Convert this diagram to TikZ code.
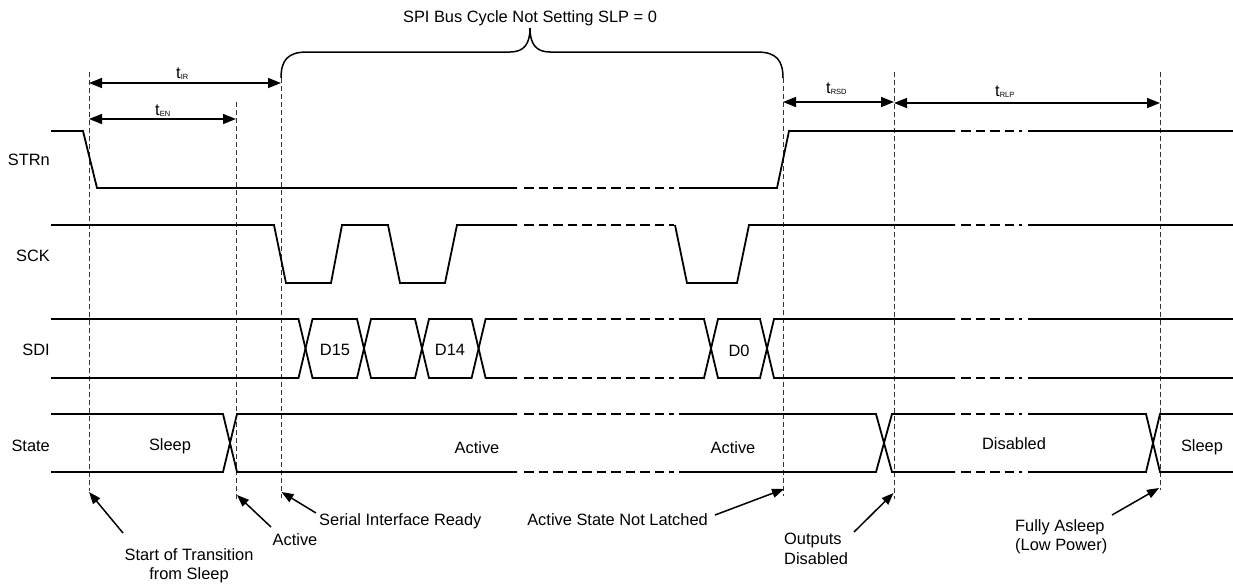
\documentclass[tikz,border=0pt]{standalone}
\usepackage{fontspec}
\setmainfont{Liberation Sans}
\usetikzlibrary{arrows.meta}
\newcommand\tsub[1]{\raisebox{-1.5pt}{\fontsize{7.5}{8}\selectfont #1}}
\begin{document}
\begin{tikzpicture}[x=1pt,y=-1pt,
  sig/.style={line width=1.8pt, line join=miter},
  sigdash/.style={line width=1.8pt, dash pattern=on 9.5pt off 5pt},
  guide/.style={line width=0.9pt, black!80, dash pattern=on 5pt off 3pt},
  dim/.style={line width=1.5pt, {Triangle[length=13pt,width=10pt]}-{Triangle[length=13pt,width=10pt]}},
  callout/.style={line width=1.5pt, -{Triangle[length=12pt,width=9pt]}},
  lbl/.style={font=\fontsize{16.4}{19.5}\selectfont, inner sep=0pt},
]
\useasboundingbox (0,0) rectangle (1233,584);

% guide lines
\coordinate (g1t) at (89,72);   \coordinate (g1b) at (89,491);
\coordinate (g2t) at (236,102); \coordinate (g2b) at (236,500);
\coordinate (g3t) at (281,78);  \coordinate (g3b) at (281,498);
\coordinate (g4t) at (783,78);  \coordinate (g4b) at (783,496);
\coordinate (g5t) at (894,72);  \coordinate (g5b) at (894,499);
\coordinate (g6t) at (1160,72); \coordinate (g6b) at (1160,490);
\foreach \i in {1,...,6}{\draw[guide] (g\i t) -- (g\i b);}

% brace
\node[lbl, anchor=base] (title) at (530,22) {SPI Bus Cycle Not Setting SLP = 0};
\draw[line width=1.5pt] (g3t) .. controls (281,60) and (288,52) .. (307,52) -- (510,52)
  .. controls (524,52) and (530,44) .. (530,28)
  .. controls (530,44) and (536,52) .. (550,52) -- (757,52)
  .. controls (776,52) and (783,60) .. (g4t);

% dimension arrows
\coordinate (irL) at (89,83);  \coordinate (irR) at (281,83);
\coordinate (enL) at (89,119); \coordinate (enR) at (236,119);
\coordinate (rsdL) at (783,102); \coordinate (rsdR) at (894,102);
\coordinate (rlpL) at (894,103); \coordinate (rlpR) at (1160,103);
\draw[dim] (irL) -- (irR);
\draw[dim] (enL) -- (enR);
\draw[dim] (rsdL) -- (rsdR);
\draw[dim] (rlpL) -- (rlpR);
\node[lbl, anchor=base west] (tIR) at (176,78) {t\tsub{IR}};
\node[lbl, anchor=base west] (tEN) at (155,115) {t\tsub{EN}};
\node[lbl, anchor=base west] (tRSD) at (826,93) {t\tsub{RSD}};
\node[lbl, anchor=base west] (tRLP) at (995,96) {t\tsub{RLP}};

% signal names
\node[lbl, anchor=base east] (nSTR) at (50,165) {STRn};
\node[lbl, anchor=base east] (nSCK) at (50,261) {SCK};
\node[lbl, anchor=base east] (nSDI) at (50,355) {SDI};
\node[lbl, anchor=base east] (nST) at (50,451) {State};

% dashed gaps of all signals
\foreach \yy in {188,225,319,378,414,472}{\draw[sigdash] (524,\yy) -- (674,\yy);}
\foreach \yy in {131,225,319,378,414,472}{\draw[sigdash] (961,\yy) -- (1022,\yy);}

% STRn
\draw[sig] (51,131) -- (83,131) -- (97,188) -- (517,188);
\draw[sig] (679,188) -- (777,188) -- (789,131) -- (955,131);
\draw[sig] (1028,131) -- (1233,131);

% SCK
\draw[sig] (51,225) -- (274,225) -- (286,283) -- (331,283) -- (342,225) -- (388,225)
  -- (400,283) -- (445,283) -- (457,225) -- (517,225);
\draw[sig] (675,225) -- (687,283) -- (737,283) -- (749,225) -- (955,225);
\draw[sig] (1028,225) -- (1233,225);

% SDI
\draw[sig] (51,319) -- (298.5,319) -- (312.5,378) -- (357,378) -- (371,319) -- (415,319)
  -- (429,378) -- (471.6,378) -- (485.6,319) -- (517,319);
\draw[sig] (51,378) -- (298.5,378) -- (312.5,319) -- (357,319) -- (371,378) -- (415,378)
  -- (429,319) -- (471.6,319) -- (485.6,378) -- (517,378);
\draw[sig] (679,319) -- (704,319) -- (718,378) -- (760,378) -- (774,319) -- (955,319);
\draw[sig] (679,378) -- (704,378) -- (718,319) -- (760,319) -- (774,378) -- (955,378);
\draw[sig] (1028,319) -- (1233,319);
\draw[sig] (1028,378) -- (1233,378);
\node[lbl, anchor=base] (d15) at (335,355) {D15};
\node[lbl, anchor=base] (d14) at (450,355) {D14};
\node[lbl, anchor=base] (d0) at (739,356) {D0};

% State
\draw[sig] (51,414) -- (223,414) -- (237,472) -- (517,472);
\draw[sig] (51,472) -- (223,472) -- (237,414) -- (517,414);
\draw[sig] (679,414) -- (876,414) -- (892,472) -- (955,472);
\draw[sig] (679,472) -- (876,472) -- (892,414) -- (955,414);
\draw[sig] (1028,414) -- (1146,414) -- (1160,472) -- (1233,472);
\draw[sig] (1028,472) -- (1146,472) -- (1160,414) -- (1233,414);
\node[lbl, anchor=base] (sSleep) at (170,450) {Sleep};
\node[lbl, anchor=base] (sAct1) at (477,453) {Active};
\node[lbl, anchor=base] (sAct2) at (733,453) {Active};
\node[lbl, anchor=base] (sDis) at (1014,449) {Disabled};
\node[lbl, anchor=base] (sSleep2) at (1202,451) {Sleep};

% callouts
\node[lbl, anchor=north, align=center] (cStart) at (189,548) {Start of Transition\\from Sleep};
\node[lbl, anchor=base] (cActive) at (295,545) {Active};
\node[lbl, anchor=base west] (cSerial) at (319,525) {Serial Interface Ready};
\node[lbl, anchor=base east] (cLatch) at (708,525) {Active State Not Latched};
\node[lbl, anchor=north west, align=left] (cOut) at (784,533) {Outputs\\Disabled};
\node[lbl, anchor=north west, align=left] (cAsleep) at (1015,519) {Fully Asleep\\(Low Power)};

\coordinate (aStartT) at (123,533); \coordinate (aStartH) at (89,492);
\coordinate (aActT) at (271,527);   \coordinate (aActH) at (237,495);
\coordinate (aSerT) at (316,513);   \coordinate (aSerH) at (281.5,492);
\coordinate (aLatT) at (715,515);   \coordinate (aLatH) at (784,489);
\coordinate (aOutT) at (854,532);   \coordinate (aOutH) at (893.5,493);
\coordinate (aSlT) at (1112,515);   \coordinate (aSlH) at (1159,488);
\draw[callout] (aStartT) -- (aStartH);
\draw[callout] (aActT) -- (aActH);
\draw[callout] (aSerT) -- (aSerH);
\draw[callout] (aLatT) -- (aLatH);
\draw[callout] (aOutT) -- (aOutH);
\draw[callout] (aSlT) -- (aSlH);
\end{tikzpicture}
\end{document}
